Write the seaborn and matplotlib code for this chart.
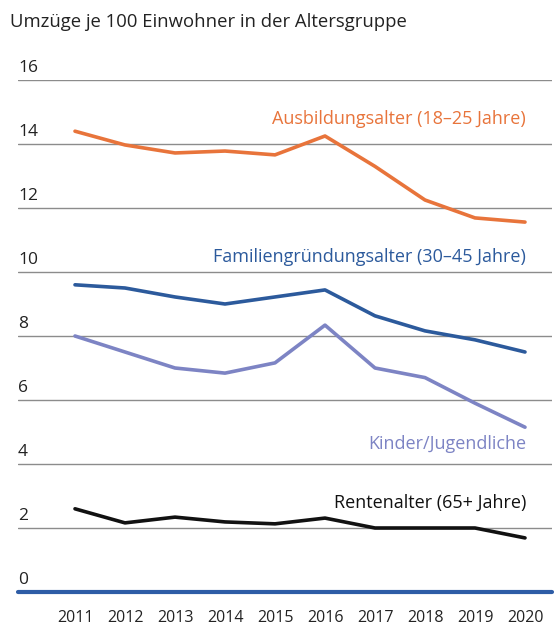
import numpy as np
import pandas as pd
import matplotlib
matplotlib.use("Agg")
import matplotlib.pyplot as plt
import seaborn as sns

years = [2011, 2012, 2013, 2014, 2015, 2016, 2017, 2018, 2019, 2020]
ausbildung = [14.4, 13.97, 13.72, 13.78, 13.66, 14.25, 13.3, 12.25, 11.69, 11.56]
familie = [9.6, 9.5, 9.22, 9.0, 9.22, 9.44, 8.63, 8.16, 7.88, 7.5]
kinder = [8.0, 7.5, 7.0, 6.84, 7.16, 8.34, 7.0, 6.7, 5.9, 5.15]
rente = [2.6, 2.16, 2.34, 2.19, 2.13, 2.31, 2.0, 2.0, 2.0, 1.69]

series_names = ["Ausbildungsalter (18–25 Jahre)", "Familiengründungsalter (30–45 Jahre)",
                "Kinder/Jugendliche", "Rentenalter (65+ Jahre)"]
series_values = [ausbildung, familie, kinder, rente]
colors = ["#E8743B", "#2C5A9C", "#7D84C4", "#111111"]
label_y = [14.5, 10.2, 4.35, 2.5]
yticks = [0, 2, 4, 6, 8, 10, 12, 14, 16]
title = "Umzüge je 100 Einwohner in der Altersgruppe"

sns.set_theme(style="white")
plt.rcParams['font.family'] = ['Open Sans', 'DejaVu Sans']

rows = []
for name, vals in zip(series_names, series_values):
    for i, v in enumerate(vals):
        rows.append({"idx": i, "value": v, "series": name})
df = pd.DataFrame(rows)

fig = plt.figure(figsize=(5.55, 6.27), dpi=100)
ax = fig.add_axes([18/555, 1-592/627, (552-18)/555, (592-80)/627])

sns.lineplot(data=df, x="idx", y="value", hue="series", palette=dict(zip(series_names, colors)),
             linewidth=2.6, ax=ax, legend=False)

ax.set_xlim(-1.14, 9.54)
ax.set_ylim(0, 16)
for s in ax.spines.values():
    s.set_visible(False)

for yt in yticks:
    if yt > 0:
        ax.axhline(yt, color="#8c8c8c", linewidth=1.0, zorder=0)
    ax.text(0.0, yt + 0.12, str(yt), transform=ax.get_yaxis_transform(), ha="left", va="bottom",
            fontsize=12.5, color="#222222")
ax.axhline(0, color="#2E5DA6", linewidth=3, zorder=3, clip_on=False)

ax.set_yticks([])
ax.set_xticks(range(len(years)))
ax.set_xticklabels([str(y) for y in years], fontsize=11.5, color="#222222")
ax.tick_params(axis="x", which="major", length=0, pad=13)
ax.set_xticks(np.arange(-0.5, len(years), 1.0), minor=True)
ax.tick_params(axis="x", which="minor", length=7, width=1, color="#999999", direction="out")
ax.set_xlabel("")
ax.set_ylabel("")

for name, c, ly in zip(series_names, colors, label_y):
    ax.text(9.02, ly, name, ha="right", va="bottom", color=c, fontsize=13)

fig.text(10/555, 1-22/627, title, ha="left", va="center", fontsize=13.3, color="#222222")

fig.savefig("out.png", dpi=100)
